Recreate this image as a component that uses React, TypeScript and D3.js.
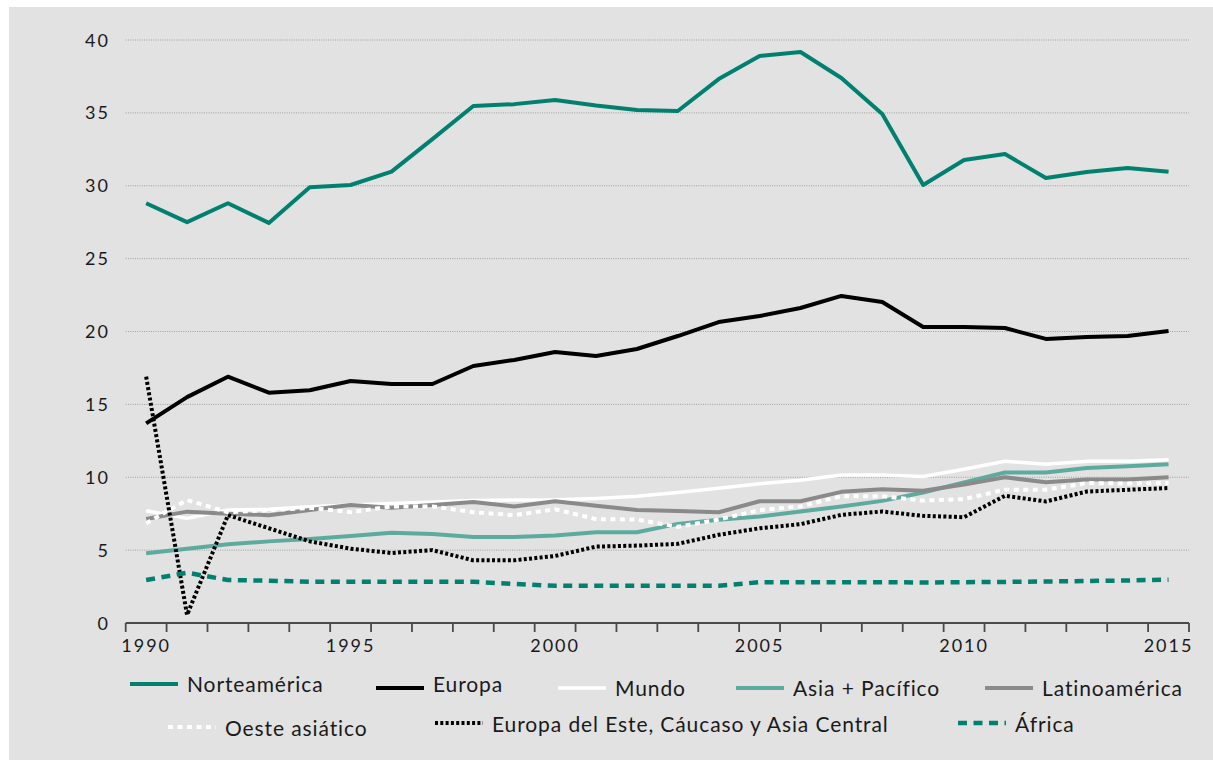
import React, { useEffect, useRef } from 'react';
import * as d3 from 'd3';

// years on the category axis
const years = d3.range(1990, 2016).map(String);
const yTicks = [0, 5, 10, 15, 20, 25, 30, 35, 40];
const xLabels = ['1990', '1995', '2000', '2005', '2010', '2015'];

const norteamerica = [28.8, 27.5, 28.8, 27.45, 29.9, 30.05, 30.97, 33.2, 35.47, 35.6, 35.88, 35.5, 35.2, 35.13, 37.32, 38.9, 39.18, 37.39, 34.92, 30.05, 31.77, 32.18, 30.53, 30.94, 31.22, 30.96];
const europa = [13.7, 15.5, 16.9, 15.8, 15.97, 16.6, 16.4, 16.4, 17.63, 18.05, 18.59, 18.32, 18.8, 19.69, 20.65, 21.06, 21.61, 22.44, 22.02, 20.31, 20.31, 20.24, 19.49, 19.62, 19.69, 20.03];
const mundo = [7.7, 7.18, 7.75, 7.8, 7.98, 8.1, 8.2, 8.3, 8.4, 8.44, 8.45, 8.55, 8.7, 8.95, 9.25, 9.55, 9.8, 10.15, 10.15, 10.05, 10.55, 11.1, 10.9, 11.1, 11.1, 11.2];
const asiaPacifico = [4.78, 5.1, 5.4, 5.6, 5.77, 5.97, 6.2, 6.1, 5.9, 5.9, 6.0, 6.23, 6.23, 6.8, 7.08, 7.3, 7.65, 8.0, 8.38, 8.95, 9.65, 10.33, 10.33, 10.63, 10.75, 10.9];
const latinoamerica = [7.13, 7.64, 7.5, 7.4, 7.75, 8.1, 7.9, 8.1, 8.3, 8.0, 8.35, 8.05, 7.75, 7.68, 7.6, 8.35, 8.35, 9.0, 9.18, 9.08, 9.5, 10.0, 9.65, 9.85, 9.85, 10.0];
const oesteAsiatico = [6.85, 8.44, 7.6, 7.75, 7.9, 7.6, 8.0, 8.0, 7.6, 7.4, 7.8, 7.13, 7.1, 6.6, 7.1, 7.75, 8.0, 8.7, 8.7, 8.4, 8.5, 9.15, 9.15, 9.6, 9.57, 9.6];
const europaEste = [16.9, 0.55, 7.4, 6.5, 5.6, 5.1, 4.8, 5.0, 4.3, 4.3, 4.6, 5.24, 5.31, 5.43, 6.05, 6.5, 6.78, 7.42, 7.65, 7.35, 7.26, 8.73, 8.34, 9.02, 9.14, 9.26];
const africa = [2.95, 3.45, 2.95, 2.9, 2.83, 2.83, 2.83, 2.83, 2.83, 2.68, 2.55, 2.55, 2.55, 2.55, 2.55, 2.8, 2.8, 2.8, 2.8, 2.78, 2.8, 2.82, 2.85, 2.88, 2.92, 2.97];

const seriesNames = ['Norteamérica', 'Europa', 'Mundo', 'Asia + Pacífico', 'Latinoamérica', 'Oeste asiático', 'Europa del Este, Cáucaso y Asia Central', 'África'];
const seriesValues = [norteamerica, europa, mundo, asiaPacifico, latinoamerica, oesteAsiatico, europaEste, africa];

const TEAL = '#00806f';
const styles = [
    { color: TEAL, width: 4, dash: null },
    { color: '#000000', width: 4, dash: null },
    { color: '#ffffff', width: 3.5, dash: null },
    { color: '#5dab9f', width: 4, dash: null },
    { color: '#8a8a8a', width: 4, dash: null },
    { color: '#ffffff', width: 4, dash: '5 4.5' },
    { color: '#000000', width: 4, dash: '3 2.3' },
    { color: TEAL, width: 4.5, dash: '9 6.5' },
];

// legend placement: [lineX, lineY, textBaseline]
const legendPos = [
    [130, 684, 692], [376, 688, 692], [558, 688, 696], [736, 688, 696], [985, 688, 696],
    [168, 727, 736], [435, 723, 732], [958, 723, 732],
];

const FONT = 'Lato, "Open Sans", sans-serif';

const App: React.FC = () => {
    const ref = useRef<SVGSVGElement>(null);

    useEffect(() => {
        const svg = d3.select(ref.current);
        svg.selectAll('*').remove();

        svg.append('rect').attr('width', 1213).attr('height', 760).attr('fill', '#ffffff');
        svg.append('rect').attr('x', 9).attr('y', 7).attr('width', 1204).attr('height', 753).attr('fill', '#e2e2e2');

        const x = d3.scaleBand<string>().domain(years).range([125.7, 1189]).padding(0);
        const y = d3.scaleLinear().domain([0, 40]).range([623, 40]);
        const bw = x.bandwidth();

        // gridlines
        svg.append('g')
            .selectAll('line')
            .data(yTicks.filter(t => t > 0))
            .enter()
            .append('line')
            .attr('x1', 125.7)
            .attr('x2', 1189)
            .attr('y1', d => y(d))
            .attr('y2', d => y(d))
            .attr('stroke', '#a0a0a0')
            .attr('stroke-width', 1)
            .attr('stroke-dasharray', '1 1.3');

        // y labels
        svg.append('g')
            .selectAll('text')
            .data(yTicks)
            .enter()
            .append('text')
            .attr('x', 110)
            .attr('y', d => y(d) + 6.5)
            .attr('text-anchor', 'end')
            .style('font-family', FONT)
            .style('font-size', '18px')
            .style('letter-spacing', '2px')
            .attr('fill', '#1a1a1a')
            .text(d => String(d));

        // x axis
        svg.append('line')
            .attr('x1', 125.7)
            .attr('x2', 1189)
            .attr('y1', y(0))
            .attr('y2', y(0))
            .attr('stroke', '#4a4a4a')
            .attr('stroke-width', 2);

        const boundaries = years.map(d => x(d) as number).concat([1189]);
        svg.append('g')
            .selectAll('line')
            .data(boundaries)
            .enter()
            .append('line')
            .attr('x1', d => d)
            .attr('x2', d => d)
            .attr('y1', y(0))
            .attr('y2', y(0) + 9)
            .attr('stroke', '#4a4a4a')
            .attr('stroke-width', 1.8);

        svg.append('g')
            .selectAll('text')
            .data(xLabels)
            .enter()
            .append('text')
            .attr('x', d => (x(d) as number) + bw / 2)
            .attr('y', 652)
            .attr('text-anchor', 'middle')
            .style('font-family', FONT)
            .style('font-size', '18px')
            .style('letter-spacing', '2px')
            .attr('fill', '#1a1a1a')
            .text(d => d);

        // series
        const line = d3.line<number>()
            .x((_, i) => (x(years[i]) as number) + bw / 2)
            .y(d => y(d));

        seriesValues.forEach((vals, i) => {
            const s = styles[i];
            svg.append('path')
                .attr('d', line(vals))
                .attr('fill', 'none')
                .attr('stroke', s.color)
                .attr('stroke-width', s.width)
                .attr('stroke-linejoin', 'round')
                .attr('stroke-dasharray', s.dash ?? null);
        });

        // legend
        const lg = svg.append('g');
        seriesNames.forEach((name, i) => {
            const s = styles[i];
            const [lx, ly, tb] = legendPos[i];
            lg.append('line')
                .attr('x1', lx)
                .attr('x2', lx + 48)
                .attr('y1', ly)
                .attr('y2', ly)
                .attr('stroke', s.color)
                .attr('stroke-width', s.width)
                .attr('stroke-dasharray', s.dash ?? null);
            lg.append('text')
                .attr('x', lx + 57)
                .attr('y', tb)
                .style('font-family', FONT)
                .style('font-size', '21px')
                .style('letter-spacing', '0.9px')
                .attr('fill', '#1a1a1a')
                .text(name);
        });
    }, []);

    return (
        <div style={{ position: 'absolute', left: 0, top: 0 }}>
            <svg ref={ref} width={1213} height={760} style={{ display: 'block' }} />
        </div>
    );
};

export default App;
